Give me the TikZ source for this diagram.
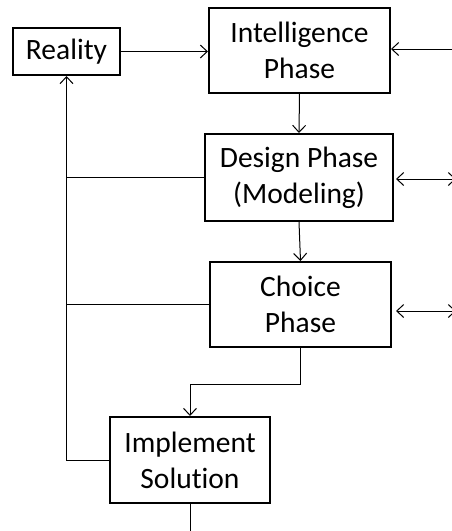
\documentclass[tikz,border=0pt]{standalone}
\usepackage{fontspec}
\setmainfont{Carlito}[Ligatures=NoCommon]
\usetikzlibrary{arrows.meta}
\begin{document}
\begin{tikzpicture}[x=1pt,y=-1pt,
  phase/.style={draw,line width=2pt,align=center,inner sep=0pt,
    font=\fontsize{29.5}{36}\selectfont},
  link/.style={line width=1pt},
  arr/.style={link,-{Straight Barb[length=7pt,width=13pt,line width=1pt]}},
  darr/.style={link,{Straight Barb[length=7pt,width=13pt,line width=1pt]}-{Straight Barb[length=7pt,width=13pt,line width=1pt]}}]
  \useasboundingbox (0,0) rectangle (452,531);
  \clip (0,0) rectangle (452,531);

  % phase boxes
  \node[phase,minimum width=107pt,minimum height=47pt] (real) at (66.5,51.5) {Reality};
  \node[phase,minimum width=181pt,minimum height=85pt] (intel) at (299.5,50.5) {Intelligence\\Phase};
  \node[phase,minimum width=188pt,minimum height=87pt] (design) at (299,177.5) {Design Phase\\(Modeling)};
  \node[phase,minimum width=181pt,minimum height=85pt] (choice) at (300.5,304.5) {Choice\\Phase};
  \node[phase,minimum width=160pt,minimum height=86pt] (impl) at (190,460) {Implement\\Solution};

  % free ends beyond the right and bottom edges
  \coordinate (rI) at (460,49);
  \coordinate (rD) at (456,179);
  \coordinate (rC) at (456,311);
  \coordinate (bot) at (190,540);

  % main flow
  \draw[arr] (real.east) -- (real.east -| intel.west);
  \draw[arr] (intel.south) -- (design.north);
  \draw[arr] (design.south) -- (choice.north);
  \draw[arr] (choice.south) -- ++(0,36) -| (impl.north);
  \draw[link] (impl.south) -- (bot);

  % feedback to reality
  \draw[arr] (impl.west) -- (impl.west -| real.south) -- (real.south);
  \draw[link] (design.west) -- (design.west -| real.south);
  \draw[link] (choice.west) -- (choice.west -| real.south);

  % side links
  \draw[arr] (rI) -- (rI -| intel.east);
  \draw[darr] ([xshift=2pt]design.east |- rD) -- (rD);
  \draw[darr] ([xshift=4pt]choice.east |- rC) -- (rC);
\end{tikzpicture}
\end{document}
